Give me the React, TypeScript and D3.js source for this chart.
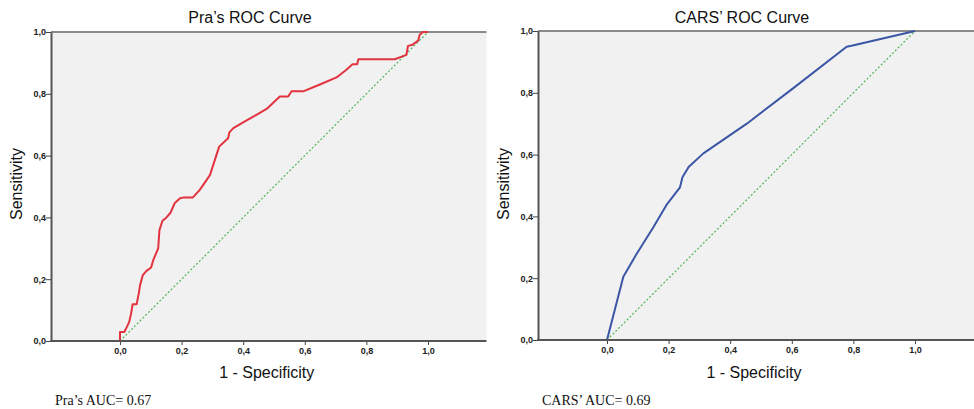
import React, { useEffect, useRef } from "react";
import * as d3 from "d3";

// Pra's ROC curve (1 - specificity, sensitivity)
const praFpr = [0, 0, 0.014, 0.022, 0.03, 0.036, 0.041, 0.054, 0.061, 0.065, 0.074, 0.086, 0.101, 0.108, 0.124, 0.128, 0.138, 0.151, 0.164, 0.178, 0.195, 0.205, 0.236, 0.259, 0.292, 0.322, 0.351, 0.355, 0.368, 0.411, 0.443, 0.476, 0.519, 0.546, 0.557, 0.595, 0.649, 0.703, 0.735, 0.755, 0.77, 0.774, 0.892, 0.93, 0.935, 0.95, 0.968, 0.973, 0.984, 1];
const praTpr = [0, 0.029, 0.029, 0.045, 0.062, 0.089, 0.119, 0.119, 0.154, 0.18, 0.213, 0.227, 0.238, 0.262, 0.3, 0.359, 0.389, 0.4, 0.415, 0.447, 0.462, 0.464, 0.464, 0.489, 0.537, 0.629, 0.656, 0.675, 0.689, 0.714, 0.732, 0.751, 0.791, 0.791, 0.808, 0.808, 0.83, 0.853, 0.878, 0.896, 0.896, 0.912, 0.912, 0.926, 0.955, 0.959, 0.972, 0.991, 1, 1];

// CARS' ROC curve
const carsFpr = [0, 0.053, 0.097, 0.151, 0.195, 0.237, 0.245, 0.265, 0.313, 0.454, 0.605, 0.778, 0.794, 1];
const carsTpr = [0, 0.205, 0.28, 0.366, 0.44, 0.494, 0.527, 0.56, 0.604, 0.7, 0.815, 0.949, 0.952, 1];

const ticks = [0, 0.2, 0.4, 0.6, 0.8, 1.0];

const panels = [
  { title: "Pra\u2019s ROC Curve", note: "Pra\u2019s AUC= 0.67", fpr: praFpr, tpr: praTpr, color: "#e2333f",
    left: 51, right: 486.5, x0: 120, x1: 428, top: 32, bottom: 341, labelX: 17, titleX: 250 },
  { title: "CARS\u2019 ROC Curve", note: "CARS\u2019 AUC= 0.69", fpr: carsFpr, tpr: carsTpr, color: "#3a56a5",
    left: 538, right: 974, x0: 607, x1: 915, top: 31, bottom: 340, labelX: 504, titleX: 742 },
];

const fmt = (d: number) => d.toFixed(1).replace(".", ",");

export default function App() {
  const ref = useRef<SVGSVGElement>(null);

  useEffect(() => {
    const svg = d3.select(ref.current);
    svg.selectAll("*").remove();

    panels.forEach((p) => {
      const g = svg.append("g");
      const x = d3.scaleLinear().domain([0, 1]).range([p.x0, p.x1]);
      const y = d3.scaleLinear().domain([0, 1]).range([p.bottom, p.top]);

      // plot background
      g.append("rect")
        .attr("x", p.left).attr("y", p.top)
        .attr("width", p.right - p.left).attr("height", p.bottom - p.top)
        .attr("fill", "#f1f1f1");

      // top frame line
      g.append("line")
        .attr("x1", p.left).attr("x2", p.right)
        .attr("y1", p.top).attr("y2", p.top)
        .attr("stroke", "#8a8a8a").attr("stroke-width", 2);

      // reference diagonal
      g.append("line")
        .attr("x1", x(0)).attr("y1", y(0))
        .attr("x2", x(1)).attr("y2", y(1))
        .attr("stroke", "#4cb55a").attr("stroke-width", 1.2)
        .attr("stroke-dasharray", "2,2");

      // roc curve
      const pts = p.fpr.map((f, i) => [f, p.tpr[i]] as [number, number]);
      const line = d3.line<[number, number]>().x((d) => x(d[0])).y((d) => y(d[1]));
      g.append("path")
        .datum(pts)
        .attr("d", line)
        .attr("fill", "none")
        .attr("stroke", p.color)
        .attr("stroke-width", 2)
        .attr("stroke-linejoin", "round");

      // y axis
      const yAxis = g.append("g")
        .attr("transform", `translate(${p.left},0)`)
        .call(d3.axisLeft(y).tickValues(ticks).tickFormat((d) => fmt(+d)).tickSize(5).tickSizeOuter(0));
      yAxis.select(".domain").attr("stroke", "#555").attr("stroke-width", 2);
      yAxis.selectAll(".tick line").attr("stroke", "#444");
      yAxis.selectAll(".tick text")
        .attr("x", -5)
        .attr("font-family", "Liberation Sans, Arial, sans-serif")
        .attr("font-size", 9).attr("font-weight", "bold").attr("fill", "#222");

      // x axis
      const xAxis = g.append("g")
        .attr("transform", `translate(0,${p.bottom})`)
        .call(d3.axisBottom(x).tickValues(ticks).tickFormat((d) => fmt(+d)).tickSize(4).tickSizeOuter(0));
      xAxis.select(".domain").remove();
      xAxis.selectAll(".tick line").attr("stroke", "#444");
      xAxis.selectAll(".tick text")
        .attr("y", 7)
        .attr("font-family", "Liberation Sans, Arial, sans-serif")
        .attr("font-size", 9).attr("font-weight", "bold").attr("fill", "#222");

      g.append("line")
        .attr("x1", p.left - 1).attr("x2", p.right)
        .attr("y1", p.bottom).attr("y2", p.bottom)
        .attr("stroke", "#555").attr("stroke-width", 2);

      // title
      g.append("text")
        .attr("x", p.titleX).attr("y", 23)
        .attr("text-anchor", "middle")
        .attr("font-family", "Liberation Sans, Arial, sans-serif")
        .attr("font-size", 16).attr("fill", "#111")
        .text(p.title);

      // axis titles
      g.append("text")
        .attr("x", (p.left + p.right) / 2 - 2).attr("y", 378)
        .attr("text-anchor", "middle")
        .attr("font-family", "Liberation Sans, Arial, sans-serif")
        .attr("font-size", 16).attr("fill", "#111")
        .text("1 - Specificity");

      g.append("text")
        .attr("transform", `translate(${p.labelX + 5},184) rotate(-90)`)
        .attr("text-anchor", "middle")
        .attr("font-family", "Liberation Sans, Arial, sans-serif")
        .attr("font-size", 16).attr("fill", "#111")
        .text("Sensitivity");

      // AUC note
      g.append("text")
        .attr("x", p.left + 4).attr("y", 405)
        .attr("font-family", "Liberation Serif, Times New Roman, serif")
        .attr("font-size", 14).attr("fill", "#111")
        .text(p.note);
    });
  }, []);

  return (
    <svg ref={ref} width={974} height={409}
      style={{ position: "absolute", left: 0, top: 0, background: "#fff" }} />
  );
}
